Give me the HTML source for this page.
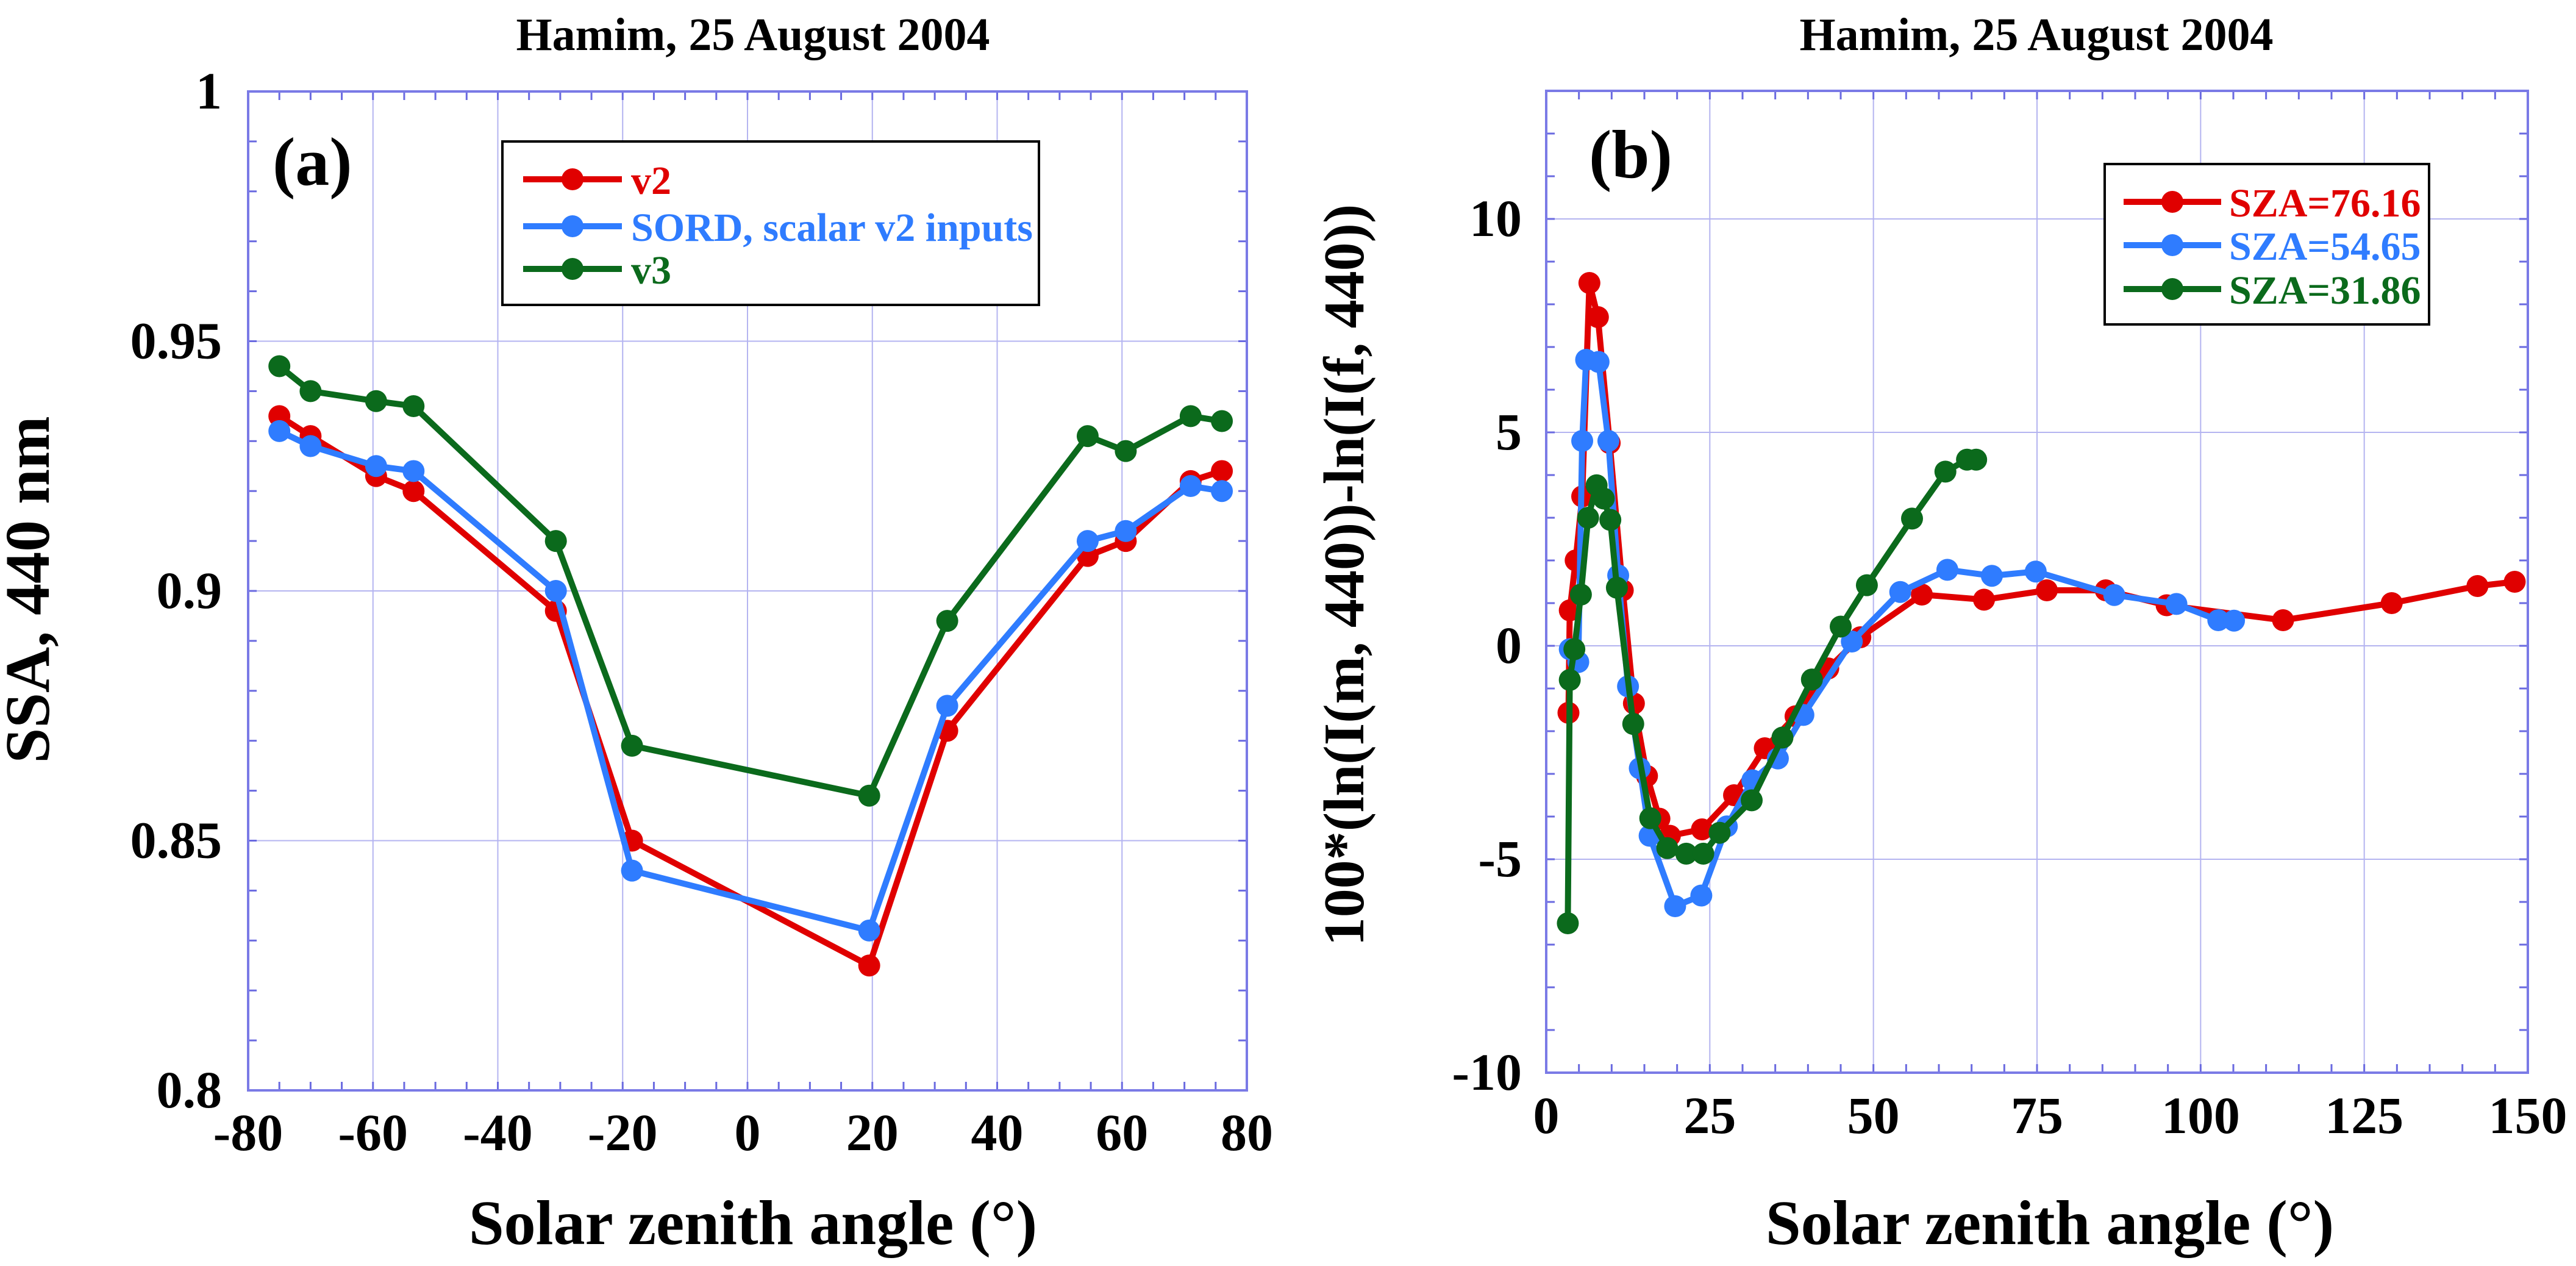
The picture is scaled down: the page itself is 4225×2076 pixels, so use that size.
<!DOCTYPE html>
<html><head><meta charset="utf-8">
<style>
html,body{margin:0;padding:0;background:#fff;}
svg{display:block;}
text{font-family:"Liberation Serif","DejaVu Serif",serif;font-weight:bold;}
</style></head>
<body>
<svg id="chart" width="4225" height="2076" viewBox="0 0 4225 2076" xmlns="http://www.w3.org/2000/svg" font-family="Liberation Serif, DejaVu Serif, serif" font-weight="bold">
<rect width="4225" height="2076" fill="#fff"/>
<g id="pa"></g>
<g id="pb"></g>
</svg>
<script>
// Panel (a) data
const aAngles = [-75,-70,-59.5,-53.5,-30.7,-18.5,19.5,32,54.5,60.6,71,76];
const aV2 = [0.935,0.931,0.923,0.920,0.896,0.850,0.825,0.872,0.907,0.910,0.922,0.924];
const aSORD = [0.932,0.929,0.925,0.924,0.900,0.844,0.832,0.877,0.910,0.912,0.921,0.920];
const aV3 = [0.945,0.940,0.938,0.937,0.910,0.869,0.859,0.894,0.931,0.928,0.935,0.934];
const aXTicks = [-80,-60,-40,-20,0,20,40,60,80];
const aYTicks = [0.8,0.85,0.9,0.95,1];
const aYTickLabels = ["0.8","0.85","0.9","0.95","1"];

// Panel (b) data
const bRedX = [3.4,3.6,4.5,5.5,6.6,7.9,9.7,11.7,13.4,15.4,17.3,18.9,23.8,28.7,33.4,38.1,43.1,48,57.4,66.9,76.5,85.5,94.8,112.6,129.2,142.3,148];
const bRedY = [-1.57,0.83,2.0,3.5,8.5,7.7,4.75,1.3,-1.35,-3.05,-4.05,-4.45,-4.3,-3.5,-2.4,-1.65,-0.53,0.2,1.2,1.08,1.3,1.3,0.95,0.6,1.0,1.4,1.5];
const bBlueX = [3.6,4.9,5.5,6.1,8,9.5,11,12.5,14.3,15.8,19.7,23.7,27.6,31.5,35.4,39.3,46.7,54.1,61.3,68.1,74.8,86.8,96.3,102.7,105.1];
const bBlueY = [-0.08,-0.38,4.8,6.7,6.65,4.8,1.65,-0.95,-2.87,-4.45,-6.1,-5.85,-4.23,-3.15,-2.64,-1.62,0.1,1.26,1.78,1.64,1.74,1.19,0.98,0.6,0.59];
const bGreenX = [3.3,3.6,4.3,5.3,6.4,7.7,8.8,9.8,10.8,13.3,15.9,18.5,21.4,24,26.5,31.4,36.1,40.6,45,49,55.9,61,64.3,65.7];
const bGreenY = [-6.5,-0.8,-0.08,1.2,3.0,3.76,3.45,2.95,1.36,-1.83,-4.04,-4.74,-4.87,-4.87,-4.38,-3.62,-2.15,-0.79,0.45,1.42,2.98,4.08,4.36,4.36];
const bXTicks = [0,25,50,75,100,125,150];
const bYTicks = [-10,-5,0,5,10];

const NS="http://www.w3.org/2000/svg";
const RED="#e00000", BLUE="#2f7cff", GREEN="#0b6a1c";
const FF="Liberation Serif, DejaVu Serif, serif";
function mk(parent,tag,attrs,text){
  const e=document.createElementNS(NS,tag);
  for(const k in attrs)e.setAttribute(k,attrs[k]);
  if(tag==='text'){e.setAttribute('font-family',FF);e.setAttribute('font-weight','bold');}
  if(text!==undefined)e.textContent=text;
  parent.appendChild(e);return e;
}
function panel(g,o){
  const sx=v=>o.L+(v-o.x0)/(o.x1-o.x0)*(o.R-o.L);
  const sy=v=>o.B-(v-o.y0)/(o.y1-o.y0)*(o.B-o.T);
  o.xTicks.forEach(v=>{const l=mk(g,'line',{x1:sx(v),x2:sx(v),y1:o.T,y2:o.B,stroke:'#b4b4f0','stroke-width':2});
    });
  o.yTicks.forEach(v=>{const l=mk(g,'line',{x1:o.L,x2:o.R,y1:sy(v),y2:sy(v),stroke:'#b4b4f0','stroke-width':2});
    });
  for(let v=o.x0;v<=o.x1+1e-9;v+=o.xMinor){
    mk(g,'line',{x1:sx(v),x2:sx(v),y1:o.B,y2:o.B-14,stroke:'#6a6ae0','stroke-width':3});
    mk(g,'line',{x1:sx(v),x2:sx(v),y1:o.T,y2:o.T+14,stroke:'#6a6ae0','stroke-width':3});
  }
  for(let v=o.y0;v<=o.y1+1e-9;v+=o.yMinor){
    mk(g,'line',{x1:o.L,x2:o.L+14,y1:sy(v),y2:sy(v),stroke:'#6a6ae0','stroke-width':3});
    mk(g,'line',{x1:o.R,x2:o.R-14,y1:sy(v),y2:sy(v),stroke:'#6a6ae0','stroke-width':3});
  }
  const fr=mk(g,'rect',{x:o.L,y:o.T,width:o.R-o.L,height:o.B-o.T,fill:'none',stroke:'#7a7ae6','stroke-width':4});
  
  o.xTicks.forEach((v,i)=>{const t=mk(g,'text',{x:sx(v),y:o.xLabY,'font-size':86,'text-anchor':'middle'},String(v));
    });
  o.yTicks.forEach((v,i)=>{const t=mk(g,'text',{x:o.yLabX,y:sy(v)+28,'font-size':86,'text-anchor':'end'},o.yLabels[i]);
    });
  o.series.forEach(s=>{
    const sg=mk(g,'g',{});
    
    const pts=s.x.map((x,i)=>sx(x)+','+sy(s.y[i])).join(' ');
    mk(sg,'polyline',{points:pts,fill:'none',stroke:s.c,'stroke-width':10,'stroke-linejoin':'round'});
    s.x.forEach((x,i)=>{const c=mk(sg,'circle',{cx:sx(x),cy:sy(s.y[i]),r:18,fill:s.c});
      });
  });
  let t=mk(g,'text',{x:o.titleX,y:82,'font-size':76,'text-anchor':'middle'},'Hamim, 25 August 2004');
  
  t=mk(g,'text',{x:o.xtX,y:2040,'font-size':104,'text-anchor':'middle'},'Solar zenith angle (°)');
  
  t=mk(g,'text',{x:0,y:0,'font-size':o.ytSize,'text-anchor':'middle',transform:`translate(${o.ytX},${o.ytY}) rotate(-90)`},o.yTitle);
  
  t=mk(g,'text',{x:o.tagX,y:o.tagY,'font-size':112},o.tag);
  
  const lg=mk(g,'g',{});
  
  const b=o.leg;
  mk(lg,'rect',{x:b.x,y:b.y,width:b.w,height:b.h,fill:'#fff',stroke:'#000','stroke-width':4});
  o.series.forEach((s,i)=>{
    const e=mk(lg,'g',{});
    
    const yy=b.rows[i];
    mk(e,'line',{x1:b.l1,x2:b.l2,y1:yy,y2:yy,stroke:s.c,'stroke-width':10});
    mk(e,'circle',{cx:(b.l1+b.l2)/2,cy:yy,r:18,fill:s.c});
    mk(e,'text',{x:b.tx,y:yy+24,'font-size':b.fs,fill:s.c},s.label);
  });
}
panel(document.getElementById('pa'),{
  L:407,R:2045,T:150,B:1788,x0:-80,x1:80,y0:0.8,y1:1,xMinor:5,yMinor:0.01,
  xTicks:aXTicks,yTicks:aYTicks,yLabels:aYTickLabels,xLabY:1886,yLabX:364,
  titleX:1235,xtX:1235,ytX:80,ytY:967,ytSize:104,yTitle:'SSA, 440 nm',
  tag:'(a)',tagX:447,tagY:303,
  series:[{name:'series-v2',x:aAngles,y:aV2,c:RED,label:'v2'},
          {name:'series-sord',x:aAngles,y:aSORD,c:BLUE,label:'SORD, scalar v2 inputs'},
          {name:'series-v3',x:aAngles,y:aV3,c:GREEN,label:'v3'}],
  leg:{x:824,y:232,w:880,h:268,rows:[294,371,441],l1:858,l2:1020,tx:1035,fs:66}
});
panel(document.getElementById('pb'),{
  L:2536,R:4146,T:149,B:1759,x0:0,x1:150,y0:-10,y1:13,xMinor:5,yMinor:1,
  xTicks:bXTicks,yTicks:bYTicks,yLabels:bYTicks.map(String),xLabY:1858,yLabX:2496,
  titleX:3340,xtX:3362,ytX:2236,ytY:943,ytSize:94,yTitle:'100*(ln(I(m, 440))-ln(I(f, 440))',
  tag:'(b)',tagX:2606,tagY:291,
  series:[{name:'series-sza-76',x:bRedX,y:bRedY,c:RED,label:'SZA=76.16'},
          {name:'series-sza-54',x:bBlueX,y:bBlueY,c:BLUE,label:'SZA=54.65'},
          {name:'series-sza-31',x:bGreenX,y:bGreenY,c:GREEN,label:'SZA=31.86'}],
  leg:{x:3452,y:269,w:532,h:263,rows:[331,402,474],l1:3483,l2:3643,tx:3656,fs:66}
});
</script>
</body></html>
